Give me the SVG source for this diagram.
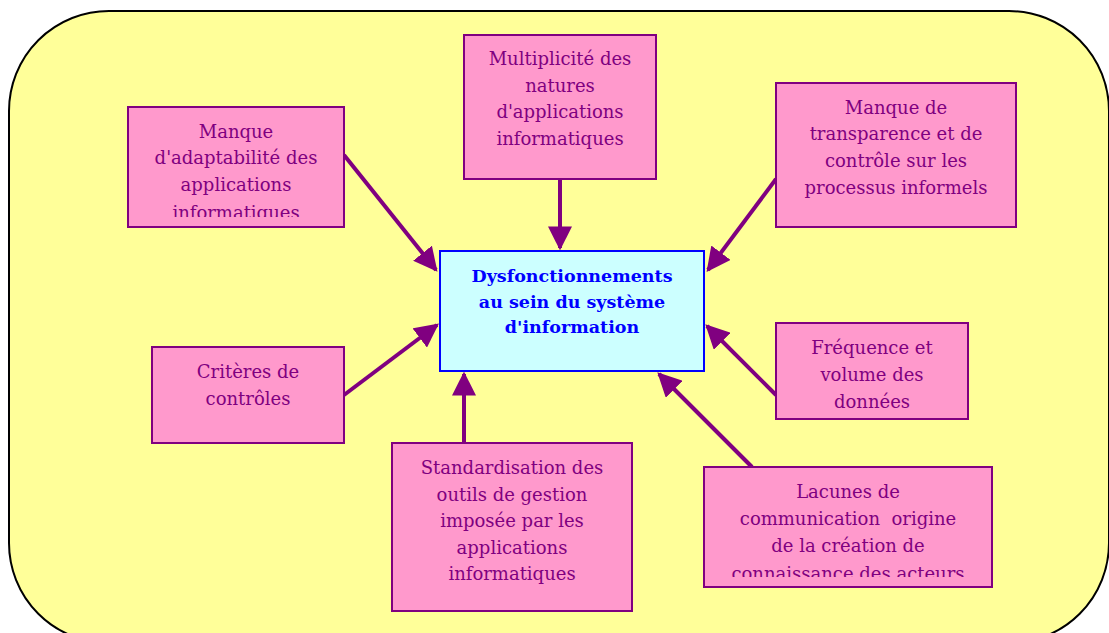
<svg xmlns="http://www.w3.org/2000/svg" width="1109" height="633" viewBox="0 0 1109 633">
<style>
.box{fill:#FF99CC;stroke:#800080;stroke-width:2}
.t{font-family:"DejaVu Serif","Liberation Serif",serif;font-size:18px;fill:#800080;text-anchor:middle}
.c{font-family:"DejaVu Serif","Liberation Serif",serif;font-size:17.5px;font-weight:bold;fill:#0000FF;text-anchor:middle}
.a{stroke:#800080;stroke-width:4;fill:none;marker-end:url(#ah)}
</style>
<defs>
<marker id="ah" viewBox="0 0 10 10" refX="9" refY="5" markerWidth="6" markerHeight="6" orient="auto" markerUnits="strokeWidth">
<path d="M0,0 L10,5 L0,10 z" fill="#800080"/>
</marker>
<clipPath id="c1"><rect x="128" y="107" width="216" height="110"/></clipPath>
<clipPath id="c8"><rect x="704" y="467" width="288" height="110"/></clipPath>
</defs>
<rect x="9" y="11" width="1100" height="632" rx="100" ry="100" fill="#FFFF99" stroke="#000" stroke-width="2"/>
<g id="connectors">
<line class="a" x1="344" y1="155" x2="436" y2="270"/>
<line class="a" x1="560" y1="179" x2="560" y2="248"/>
<line class="a" x1="776" y1="179" x2="708" y2="270"/>
<line class="a" x1="344" y1="395" x2="437" y2="325"/>
<line class="a" x1="776" y1="395" x2="707" y2="326"/>
<line class="a" x1="464" y1="443" x2="464" y2="374"/>
<line class="a" x1="752" y1="467" x2="659" y2="374"/>
</g>
<g id="n1">
<rect class="box" x="128" y="107" width="216" height="120"/>
<text class="t" clip-path="url(#c1)"><tspan x="236" y="138">Manque</tspan><tspan x="236" y="164">d'adaptabilité des</tspan><tspan x="236" y="191">applications</tspan><tspan x="236" y="219">informatiques</tspan></text>
</g>
<g id="n2">
<rect class="box" x="464" y="35" width="192" height="144"/>
<text class="t"><tspan x="560" y="65">Multiplicité des</tspan><tspan x="560" y="92">natures</tspan><tspan x="560" y="118">d'applications</tspan><tspan x="560" y="145">informatiques</tspan></text>
</g>
<g id="n3">
<rect class="box" x="776" y="83" width="240" height="144"/>
<text class="t"><tspan x="896" y="114">Manque de</tspan><tspan x="896" y="140">transparence et de</tspan><tspan x="896" y="167">contrôle sur les</tspan><tspan x="896" y="194">processus informels</tspan></text>
</g>
<g id="center">
<rect x="440" y="251" width="264" height="120" fill="#CCFFFF" stroke="#0000FF" stroke-width="2"/>
<text class="c"><tspan x="572" y="282">Dysfonctionnements</tspan><tspan x="572" y="308">au sein du système</tspan><tspan x="572" y="333">d'information</tspan></text>
</g>
<g id="n5">
<rect class="box" x="152" y="347" width="192" height="96"/>
<text class="t"><tspan x="248" y="378">Critères de</tspan><tspan x="248" y="405">contrôles</tspan></text>
</g>
<g id="n6">
<rect class="box" x="776" y="323" width="192" height="96"/>
<text class="t"><tspan x="872" y="354">Fréquence et</tspan><tspan x="872" y="381">volume des</tspan><tspan x="872" y="408">données</tspan></text>
</g>
<g id="n7">
<rect class="box" x="392" y="443" width="240" height="168"/>
<text class="t"><tspan x="512" y="474">Standardisation des</tspan><tspan x="512" y="501">outils de gestion</tspan><tspan x="512" y="527">imposée par les</tspan><tspan x="512" y="554">applications</tspan><tspan x="512" y="580">informatiques</tspan></text>
</g>
<g id="n8">
<rect class="box" x="704" y="467" width="288" height="120"/>
<text class="t" clip-path="url(#c8)"><tspan x="848" y="498">Lacunes de</tspan><tspan x="848" y="525">communication&#160; origine</tspan><tspan x="848" y="552">de la création de</tspan><tspan x="848" y="580">connaissance des acteurs</tspan></text>
</g>
</svg>
